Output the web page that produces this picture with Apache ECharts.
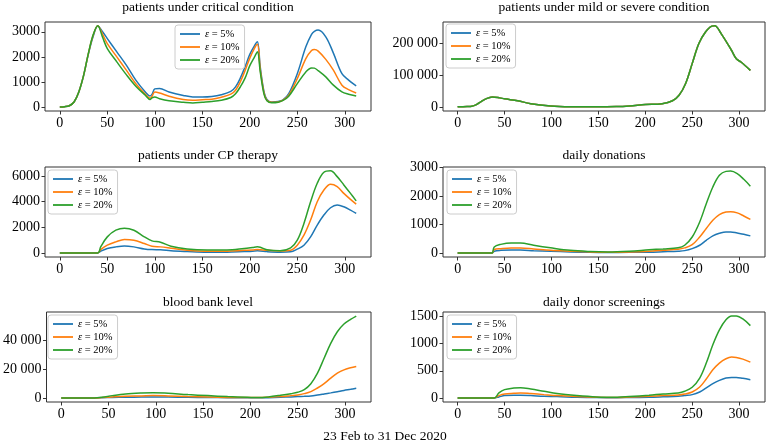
<!DOCTYPE html>
<html>
<head>
<meta charset="utf-8">
<script src="https://cdn.jsdelivr.net/npm/echarts@6/dist/echarts.min.js"></script>
<style>html,body{margin:0;padding:0;background:#fff}#c{width:770px;height:446px}</style>
</head>
<body>
<div id="c"></div>
<script>
// ---------- DATA ----------
const seriesNames = ['ε = 5%', 'ε = 10%', 'ε = 20%'];
const xTicks = [0, 50, 100, 150, 200, 250, 300];
const xLabel = '23 Feb to 31 Dec 2020';

// patients under critical condition
const critDays = [0,5,10,15,20,25,30,35,40,45,50,60,70,80,90,95,97,100,105,115,130,140,150,160,170,180,185,190,195,200,205,208,211,215,218,223,230,235,241,250,259,265,268,272,280,288,297,304,312];
const crit5  = [0,10,50,200,600,1250,2100,2800,3230,3000,2730,2200,1670,1070,600,440,500,720,740,600,460,400,400,420,490,620,800,1150,1600,2100,2450,2600,1600,600,300,200,220,280,530,1330,2400,2900,3020,3070,2800,2150,1330,1070,840];
const crit10 = [0,10,50,200,600,1250,2120,2850,3240,2900,2530,2000,1470,930,510,350,420,600,560,430,300,270,290,310,390,510,670,1000,1450,1950,2350,2500,1500,550,270,190,200,270,470,1130,1930,2250,2290,2230,1900,1470,870,690,560];
const crit20 = [0,10,50,200,600,1250,2130,2870,3240,2780,2330,1800,1290,830,470,300,360,400,330,250,190,160,190,220,270,380,530,800,1150,1650,2000,2200,1400,500,250,170,190,260,430,930,1400,1560,1550,1450,1200,870,600,510,440];
const critTicks = [0, 1000, 2000, 3000];

// patients under mild or severe condition
const mildDays = [0,10,15,20,25,30,37,45,50,64,78,99,120,150,169,183,200,218,229,236,243,250,257,264,271,274,281,292,297,302,312];
const mild20 = [1000,2000,3000,8000,17000,26000,32000,29000,26000,20000,11000,4000,1500,1000,2000,4000,8000,11000,20000,37000,74000,136000,198000,234000,253000,254000,229000,177000,151000,141000,115000];
const mild10 = mild20.slice();
const mild5  = mild20.slice();
const mildTicks = [0, 100000, 200000];

// patients under CP therapy
const cpDays = [0,40,43,50,59,68,78,89,97,106,117,134,155,176,194,203,208,211,218,232,243,250,257,264,271,278,285,292,299,306,312];
const cp5  = [0,0,130,340,470,540,470,310,260,250,160,100,50,50,100,130,160,150,100,60,80,290,600,1250,2170,2950,3520,3730,3600,3340,3080];
const cp10 = [0,0,260,600,860,1050,990,730,520,470,370,210,130,130,200,220,260,250,200,150,210,600,1380,2560,3990,4900,5350,5170,4640,4170,3800];
const cp20 = [0,0,470,1250,1770,1930,1770,1250,940,830,520,310,230,230,340,420,470,440,250,170,390,990,2300,3990,5430,6290,6400,5950,5300,4640,4060];
const cpTicks = [0, 2000, 4000, 6000];

// daily donations
const donDays = [0,36,37,39,46,57,67,81,99,120,141,160,183,204,219,235,242,250,258,265,272,279,286,291,298,305,312];
const don5  = [0,0,0,60,90,100,100,80,60,35,20,15,20,23,40,60,80,150,270,445,600,690,740,740,700,660,600];
const don10 = [0,0,0,120,150,175,175,140,90,60,35,25,35,60,94,130,176,290,560,860,1150,1350,1440,1450,1410,1300,1180];
const don20 = [0,0,0,210,300,350,350,270,180,90,50,35,60,110,140,180,270,560,1090,1730,2320,2730,2870,2880,2790,2590,2350];
const donTicks = [0, 1000, 2000, 3000];

// blood bank level
const bankDays = [0,35,43,54,68,85,97,113,134,155,176,197,208,219,232,243,250,257,264,271,278,285,292,299,306,312];
const bank5  = [0,0,100,340,500,600,700,600,450,300,200,120,100,200,460,700,910,1100,1370,2000,2740,3500,4340,5200,5940,6630];
const bank10 = [0,0,230,690,1140,1370,1600,1370,910,690,340,230,230,460,910,1600,2060,2970,4340,6860,9830,13700,17100,19400,20800,21700];
const bank20 = [0,0,460,1600,2740,3430,3660,3200,2290,1600,910,460,230,690,1830,2970,3890,5700,9830,17100,27400,37700,45700,51000,54200,56500];
const bankTicks = [0, 20000, 40000];

// daily donor screenings
const scrDays = [0,39,44,50,60,67,78,92,106,127,148,170,183,204,219,235,242,250,258,265,272,279,286,292,297,304,312];
const scr5  = [0,0,18,43,49,49,43,30,25,12,6,5,8,12,20,30,43,61,110,184,263,324,367,379,379,361,337];
const scr10 = [0,0,43,73,86,92,80,61,43,25,12,8,15,30,43,55,73,110,202,349,520,643,722,753,747,716,661];
const scr20 = [0,0,92,153,184,190,165,122,80,43,18,12,25,50,73,92,122,196,367,643,980,1255,1440,1510,1510,1457,1334];
const scrTicks = [0, 500, 1000, 1500];

// ---------- CHART ----------
const FONT = 'Liberation Serif';
const colors = ['#1f77b4', '#ff7f0e', '#2ca02c'];
const L = [
  {title:'patients under critical condition', days:critDays, vals:[crit5,crit10,crit20], yt:critTicks, ymin:-161, ymax:3391,
   grid:{left:45,top:22,width:326,height:89}, leg:{left:175,top:25}, ty:0},
  {title:'patients under mild or severe condition', days:mildDays, vals:[mild5,mild10,mild20], yt:mildTicks, ymin:-12000, ymax:266000,
   grid:{left:443,top:22,width:322,height:89}, leg:{left:446,top:24}, ty:0},
  {title:'patients under CP therapy', days:cpDays, vals:[cp5,cp10,cp20], yt:cpTicks, ymin:-320, ymax:6700,
   grid:{left:45,top:167,width:326,height:90}, leg:{left:48,top:170}, ty:148},
  {title:'daily donations', days:donDays, vals:[don5,don10,don20], yt:donTicks, ymin:-144, ymax:3024,
   grid:{left:443,top:167,width:322,height:90}, leg:{left:447,top:170}, ty:148},
  {title:'blood bank level', days:bankDays, vals:[bank5,bank10,bank20], yt:bankTicks, ymin:-2800, ymax:59300,
   grid:{left:45,top:312,width:326,height:90}, leg:{left:48,top:315}, ty:295},
  {title:'daily donor screenings', days:scrDays, vals:[scr5,scr10,scr20], yt:scrTicks, ymin:-75, ymax:1585,
   grid:{left:443,top:312,width:322,height:90}, leg:{left:447,top:315}, ty:295}
];

function fmtY(v) {
  if (Math.abs(v) >= 10000) {
    return String(v).replace(/\B(?=(\d{3})+(?!\d))/g, ' ');
  }
  return String(v);
}

const option = {
  animation: false,
  backgroundColor: '#fff',
  title: [], grid: [], xAxis: [], yAxis: [], legend: [], series: [],
  graphic: [{
    type: 'text', left: 'center', top: 429,
    style: { text: xLabel, font: '13.5px "Liberation Serif"', fill: '#000' }
  }]
};

L.forEach((p, i) => {
  option.title.push({
    text: p.title, left: p.grid.left + p.grid.width / 2, top: p.ty, textAlign: 'center', padding: 0,
    textStyle: { fontFamily: FONT, fontSize: 13.5, fontWeight: 'normal', color: '#000' }
  });
  option.grid.push(Object.assign({ show: true, borderColor: '#333', borderWidth: 1, backgroundColor: 'transparent' }, p.grid));
  option.xAxis.push({
    type: 'value', gridIndex: i, min: -15.6, max: 327.6, position: 'bottom',
    axisLine: { show: false, onZero: false },
    axisTick: { show: true, inside: false, length: 3.5, lineStyle: { color: '#333' }, customValues: xTicks },
    axisLabel: { color: '#000', fontFamily: FONT, fontSize: 14, margin: 5, customValues: xTicks },
    splitLine: { show: false }
  });
  option.yAxis.push({
    type: 'value', gridIndex: i, min: p.ymin, max: p.ymax, position: 'left',
    axisLine: { show: false, onZero: false },
    axisTick: { show: true, inside: false, length: 3.5, lineStyle: { color: '#333' }, customValues: p.yt },
    axisLabel: { color: '#000', fontFamily: FONT, fontSize: 14, margin: 5, customValues: p.yt, formatter: fmtY },
    splitLine: { show: false }
  });
  option.legend.push({
    orient: 'vertical', left: p.leg.left, top: p.leg.top,
    data: seriesNames, icon: 'rect', itemWidth: 20, itemHeight: 1.8, itemGap: 1,
    borderColor: '#ccc', borderWidth: 1, borderRadius: 3, padding: [3, 5, 3, 5],
    backgroundColor: 'rgba(255,255,255,0.8)',
    formatter: n => n.replace('ε', '{i|ε}'),
    textStyle: { fontFamily: FONT, fontSize: 10.5, color: '#000', lineHeight: 12,
      rich: { i: { fontStyle: 'italic', fontFamily: FONT, fontSize: 10.5 } } },
    selectedMode: false
  });
  p.vals.forEach((vals, k) => {
    option.series.push({
      type: 'line', name: seriesNames[k], xAxisIndex: i, yAxisIndex: i,
      data: p.days.map((d, j) => [d, vals[j]]),
      showSymbol: false, symbol: 'none', smooth: 0.35,
      lineStyle: { color: colors[k], width: 1.5 }, itemStyle: { color: colors[k] },
      z: 2 + k
    });
  });
});

const chart = echarts.init(document.getElementById('c'), null, { renderer: 'canvas' });
chart.setOption(option);
</script>
</body>
</html>
